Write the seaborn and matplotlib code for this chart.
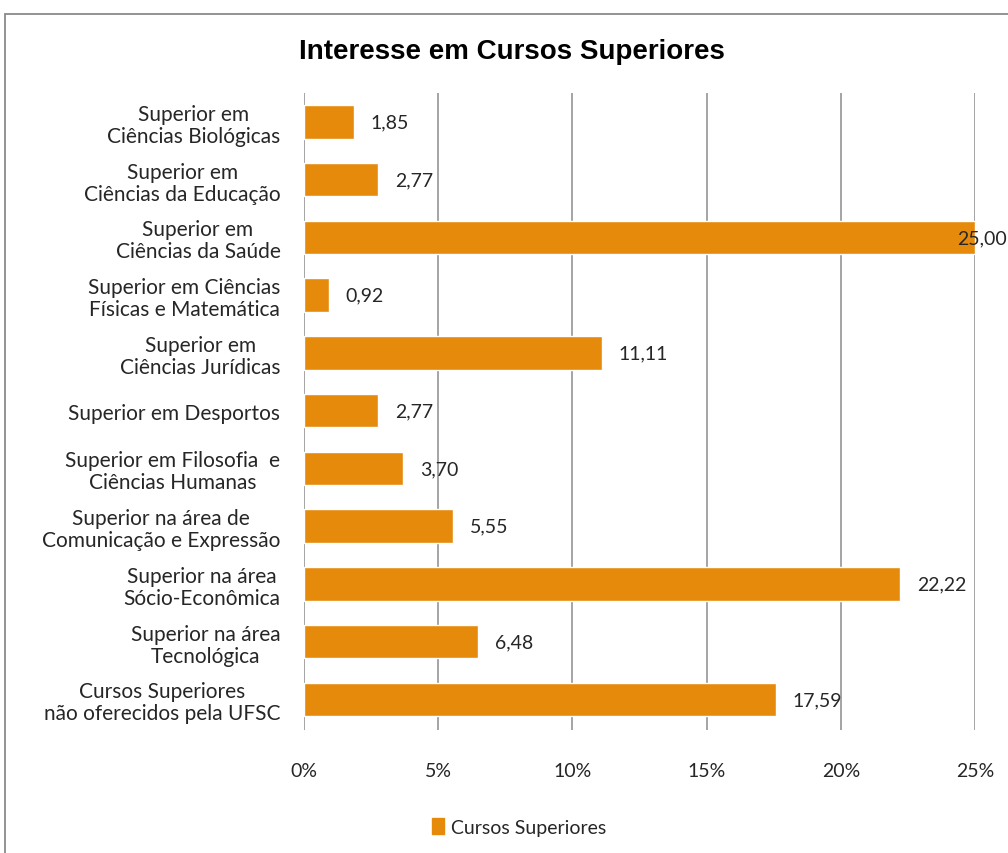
import matplotlib
matplotlib.use("Agg")
import matplotlib.pyplot as plt
import matplotlib.patches as mpatches
import seaborn as sns
import pandas as pd

categories = [
    "Superior em\nCiências Biológicas",
    "Superior em\nCiências da Educação",
    "Superior em\nCiências da Saúde",
    "Superior em Ciências\nFísicas e Matemática",
    "Superior em\nCiências Jurídicas",
    "Superior em Desportos",
    "Superior em Filosofia  e\nCiências Humanas",
    "Superior na área de\nComunicação e Expressão",
    "Superior na área\nSócio-Econômica",
    "Superior na área\nTecnológica",
    "Cursos Superiores\nnão oferecidos pela UFSC",
]
values = [1.85, 2.77, 25.00, 0.92, 11.11, 2.77, 3.70, 5.55, 22.22, 6.48, 17.59]
x_ticks = [0, 5, 10, 15, 20, 25]
x_tick_labels = ["0%", "5%", "10%", "15%", "20%", "25%"]
series_name = "Cursos Superiores"
title = "Interesse em Cursos Superiores"

bar_color = "#E68A0C"
grid_color = "#8C8C8C"
text_color = "#262626"
text_font = ["Lato", "DejaVu Sans"]

df = pd.DataFrame({"categoria": categories, "valor": values})

sns.set_theme(style="white")
plt.rcParams["font.family"] = text_font

W, H = 1008, 854
fig = plt.figure(figsize=(W / 100, H / 100), dpi=100)
fig.patch.set_facecolor("white")

# plot area in pixel coordinates
left, right, top, bottom = 304, 975, 94, 731
ax = fig.add_axes([left / W, 1 - bottom / H, (right - left) / W, (bottom - top) / H])

sns.barplot(data=df, x="valor", y="categoria", color=bar_color, width=0.58,
            saturation=1, ax=ax, orient="h")

ax.set_xlim(0, 25)
ax.set_ylim(len(categories) - 0.47, -0.5)
ax.set_xticks(x_ticks)
ax.set_xticklabels(x_tick_labels, fontsize=14, color=text_color)
ax.tick_params(axis="x", length=0, pad=23)
ax.tick_params(axis="y", length=0, pad=17)
for lbl in ax.get_yticklabels():
    lbl.set_fontsize(15)
    lbl.set_color(text_color)
    lbl.set_multialignment("center")
    lbl.set_linespacing(1.12)
ax.set_xlabel("")
ax.set_ylabel("")
for s in ax.spines.values():
    s.set_visible(False)
ax.grid(False)
for xv in x_ticks:
    ax.axvline(xv, color=grid_color, linewidth=1.1, zorder=0)
ax.set_axisbelow(True)

# value labels; the one at the axis limit is pulled back inside the figure
for i, v in enumerate(values):
    txt = f"{v:.2f}".replace(".", ",")
    dx = -13 if v >= ax.get_xlim()[1] else 12
    ax.annotate(txt, (v, i), xytext=(dx, 0), textcoords="offset points",
                ha="left", va="center", fontsize=14, color=text_color,
                annotation_clip=False, zorder=5)

fig.text(512 / W, 1 - 52 / H, title, ha="center", va="center",
         fontsize=20, fontweight="bold", family=["Liberation Sans", "DejaVu Sans"],
         color="black")

handle = mpatches.Patch(color=bar_color, label=series_name)
fig.legend(handles=[handle], loc="center", bbox_to_anchor=(519 / W, 1 - 828 / H),
           frameon=False, fontsize=14, handlelength=0.6, handleheight=0.9,
           handletextpad=0.35, labelcolor=text_color)

# chart border
border = mpatches.Rectangle((5 / W, -0.05), 1.1, 1 - 15 / H + 0.05,
                            transform=fig.transFigure, fill=False,
                            edgecolor="#8A8A8A", linewidth=1.3, clip_on=False)
fig.patches.append(border)

fig.savefig("out.png", dpi=100)
